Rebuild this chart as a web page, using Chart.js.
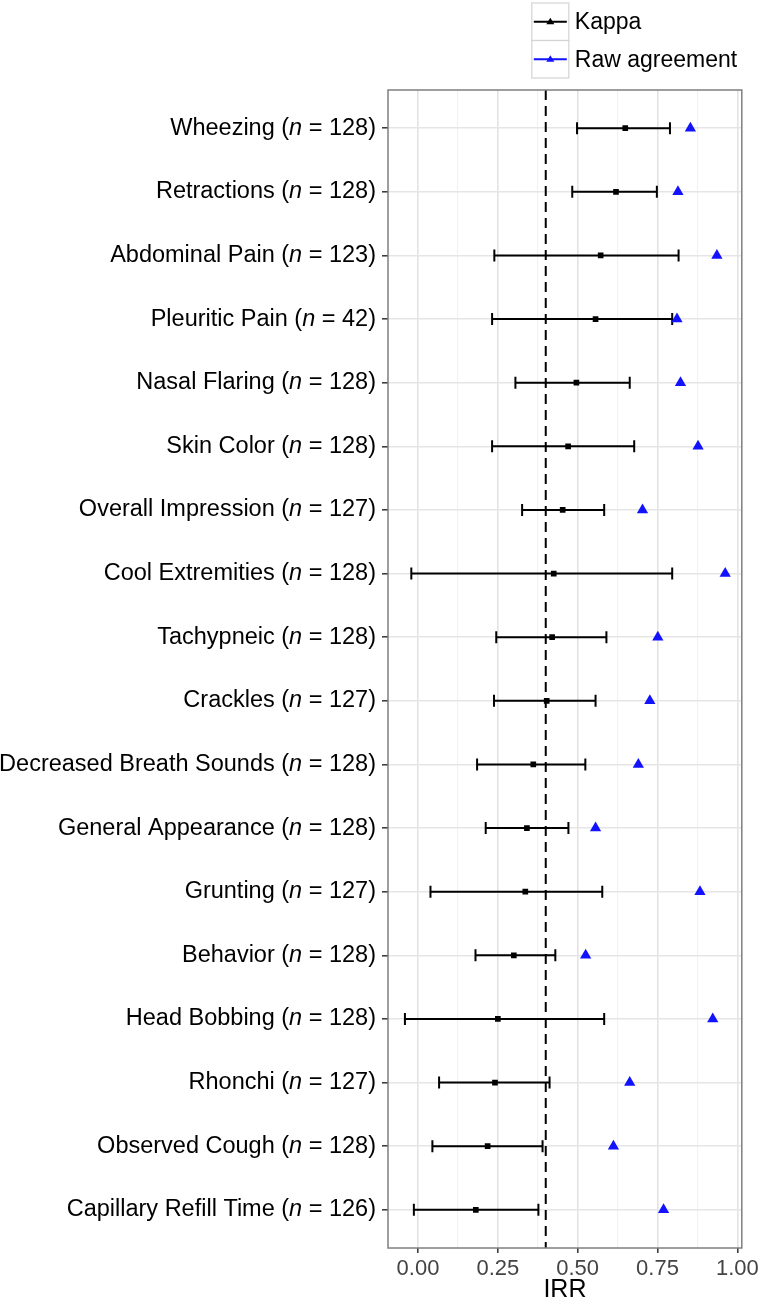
<!DOCTYPE html>
<html>
<head>
<meta charset="utf-8">
<script src="https://cdn.jsdelivr.net/npm/chart.js@4.4.1/dist/chart.umd.min.js"></script>
<style>
  html, body { margin: 0; padding: 0; background: #fff; }
</style>
</head>
<body>
<canvas id="irrChart" width="762" height="1305"></canvas>
<script>
const items = ["Wheezing", "Retractions", "Abdominal Pain", "Pleuritic Pain", "Nasal Flaring",
  "Skin Color", "Overall Impression", "Cool Extremities", "Tachypneic", "Crackles",
  "Decreased Breath Sounds", "General Appearance", "Grunting", "Behavior", "Head Bobbing",
  "Rhonchi", "Observed Cough", "Capillary Refill Time"];
const nValues = [128, 128, 123, 42, 128, 128, 127, 128, 128, 127, 128, 128, 127, 128, 128, 127, 128, 126];
const kappa = [0.649, 0.620, 0.572, 0.556, 0.496, 0.470, 0.453, 0.425, 0.420, 0.403,
  0.361, 0.341, 0.336, 0.300, 0.250, 0.241, 0.218, 0.181];
const kappaLower = [0.498, 0.483, 0.239, 0.232, 0.305, 0.232, 0.326, -0.021, 0.245, 0.238,
  0.185, 0.212, 0.039, 0.180, -0.041, 0.066, 0.045, -0.013];
const kappaUpper = [0.789, 0.748, 0.816, 0.796, 0.663, 0.677, 0.583, 0.796, 0.590, 0.556,
  0.524, 0.471, 0.577, 0.430, 0.583, 0.412, 0.390, 0.377];
const rawAgreement = [0.853, 0.814, 0.936, 0.811, 0.822, 0.877, 0.703, 0.962, 0.751, 0.726,
  0.690, 0.556, 0.883, 0.525, 0.923, 0.663, 0.612, 0.769];
const xTicks = [0, 0.25, 0.5, 0.75, 1];
const threshold = 0.4;

const xMin = -0.094, xMax = 1.014, yPad = 0.6;
const FONT = "'Liberation Sans', Arial, Helvetica, sans-serif";
const BLUE = '#1212ff';

// gridlines: majors at the tick labels, minors half way between
const gridValues = [];
xTicks.forEach((v, i) => {
  gridValues.push(v);
  if (i < xTicks.length - 1) gridValues.push((v + xTicks[i + 1]) / 2);
});
const isMajor = v => xTicks.some(t => Math.abs(t - v) < 1e-9);

// whiskers: one line, broken by gaps between rows
const whiskers = [];
items.forEach((_, i) => {
  whiskers.push({ x: kappaLower[i], y: i }, { x: kappaUpper[i], y: i }, { x: null, y: null });
});

const panelPlugin = {
  id: 'panel',
  afterDraw(chart) {
    const { ctx, chartArea: a, scales: { y } } = chart;
    ctx.save();
    // panel border
    ctx.strokeStyle = '#7f7f7f';
    ctx.lineWidth = 1.5;
    ctx.strokeRect(a.left, a.top, a.right - a.left, a.bottom - a.top);

    // category labels with italic n
    ctx.fillStyle = '#000';
    ctx.textBaseline = 'middle';
    ctx.textAlign = 'left';
    const normal = '23.5px ' + FONT, italic = 'italic 23.5px ' + FONT;
    items.forEach((name, i) => {
      const parts = [[name + ' (', normal], ['n', italic], [' = ' + nValues[i] + ')', normal]];
      let total = 0;
      parts.forEach(p => { ctx.font = p[1]; total += ctx.measureText(p[0]).width; });
      let x = a.left - 12 - total;
      const yy = y.getPixelForValue(i);
      parts.forEach(p => {
        ctx.font = p[1];
        ctx.fillText(p[0], x, yy);
        x += ctx.measureText(p[0]).width;
      });
    });

    // legend
    const legend = [{ label: 'Kappa', color: '#000' }, { label: 'Raw agreement', color: BLUE }];
    const lx = a.right - 210, bw = 37, bh = 37.5;
    legend.forEach((item, i) => {
      const top = 3 + i * bh, cy = top + bh / 2;
      ctx.strokeStyle = '#d4d4d4';
      ctx.lineWidth = 1.2;
      ctx.strokeRect(lx, top, bw, bh);
      ctx.strokeStyle = item.color;
      ctx.lineWidth = 2;
      ctx.beginPath();
      ctx.moveTo(lx + 2, cy);
      ctx.lineTo(lx + bw - 2, cy);
      ctx.stroke();
      ctx.fillStyle = item.color;
      ctx.beginPath();
      ctx.moveTo(lx + bw / 2, cy - 4);
      ctx.lineTo(lx + bw / 2 + 4, cy + 2.5);
      ctx.lineTo(lx + bw / 2 - 4, cy + 2.5);
      ctx.closePath();
      ctx.fill();
      ctx.fillStyle = '#000';
      ctx.font = '23px ' + FONT;
      ctx.fillText(item.label, lx + bw + 6, cy + 1);
    });
    ctx.restore();
  }
};

const ctx = document.getElementById('irrChart').getContext('2d');
const chart = new Chart(ctx, {
  type: 'scatter',
  data: {
    datasets: [
      {
        label: 'Raw agreement',
        data: rawAgreement.map((v, i) => ({ x: v, y: i })),
        pointStyle: 'triangle',
        pointRadius: 6.5,
        backgroundColor: BLUE,
        borderColor: BLUE,
        borderWidth: 0,
        order: 0
      },
      {
        label: 'Kappa',
        data: kappa.map((v, i) => ({ x: v, y: i })),
        pointStyle: 'rect',
        pointRadius: 4,
        backgroundColor: '#000',
        borderColor: '#000',
        borderWidth: 0,
        order: 1
      },
      {
        label: 'Kappa CI',
        data: whiskers,
        showLine: true,
        spanGaps: false,
        borderColor: '#000',
        borderWidth: 2,
        pointStyle: 'line',
        rotation: 90,
        pointRadius: 6,
        pointBorderWidth: 2,
        pointBorderColor: '#000',
        order: 2
      },
      {
        label: 'Threshold',
        data: [{ x: threshold, y: -yPad }, { x: threshold, y: items.length - 1 + yPad }],
        showLine: true,
        borderColor: '#000',
        borderWidth: 2,
        borderDash: [10, 6],
        pointRadius: 0,
        order: 3
      }
    ]
  },
  options: {
    responsive: false,
    animation: false,
    layout: { padding: { top: 90, right: 20, left: 0, bottom: 0 } },
    plugins: {
      legend: { display: false },
      tooltip: { enabled: false }
    },
    scales: {
      x: {
        type: 'linear',
        min: xMin,
        max: xMax,
        afterBuildTicks: s => { s.ticks = gridValues.map(v => ({ value: v })); },
        afterFit: s => { s.height = 57; },
        grid: {
          color: c => isMajor(c.tick.value) ? '#e3e3e3' : '#f1f1f1',
          lineWidth: c => isMajor(c.tick.value) ? 1.6 : 1.1,
          tickColor: c => isMajor(c.tick.value) ? '#333' : 'rgba(0,0,0,0)',
          tickLength: 5,
          tickWidth: 1.5
        },
        border: { display: false },
        ticks: {
          autoSkip: false,
          maxRotation: 0,
          padding: 3,
          color: '#444',
          font: { family: FONT, size: 22 },
          callback: v => isMajor(v) ? v.toFixed(2) : ''
        },
        title: {
          display: true,
          text: 'IRR',
          color: '#000',
          font: { family: FONT, size: 25 },
          padding: { top: 0, bottom: 0 }
        }
      },
      y: {
        type: 'linear',
        reverse: true,
        min: -yPad,
        max: items.length - 1 + yPad,
        afterBuildTicks: s => { s.ticks = items.map((_, i) => ({ value: i })); },
        afterFit: s => { s.width = 388; },
        grid: {
          color: '#e5e5e5',
          lineWidth: 1.6,
          tickColor: '#333',
          tickLength: 6,
          tickWidth: 1.5
        },
        border: { display: false },
        ticks: { color: 'rgba(0,0,0,0)', callback: () => '' }
      }
    }
  },
  plugins: [panelPlugin]
});
</script>
</body>
</html>
